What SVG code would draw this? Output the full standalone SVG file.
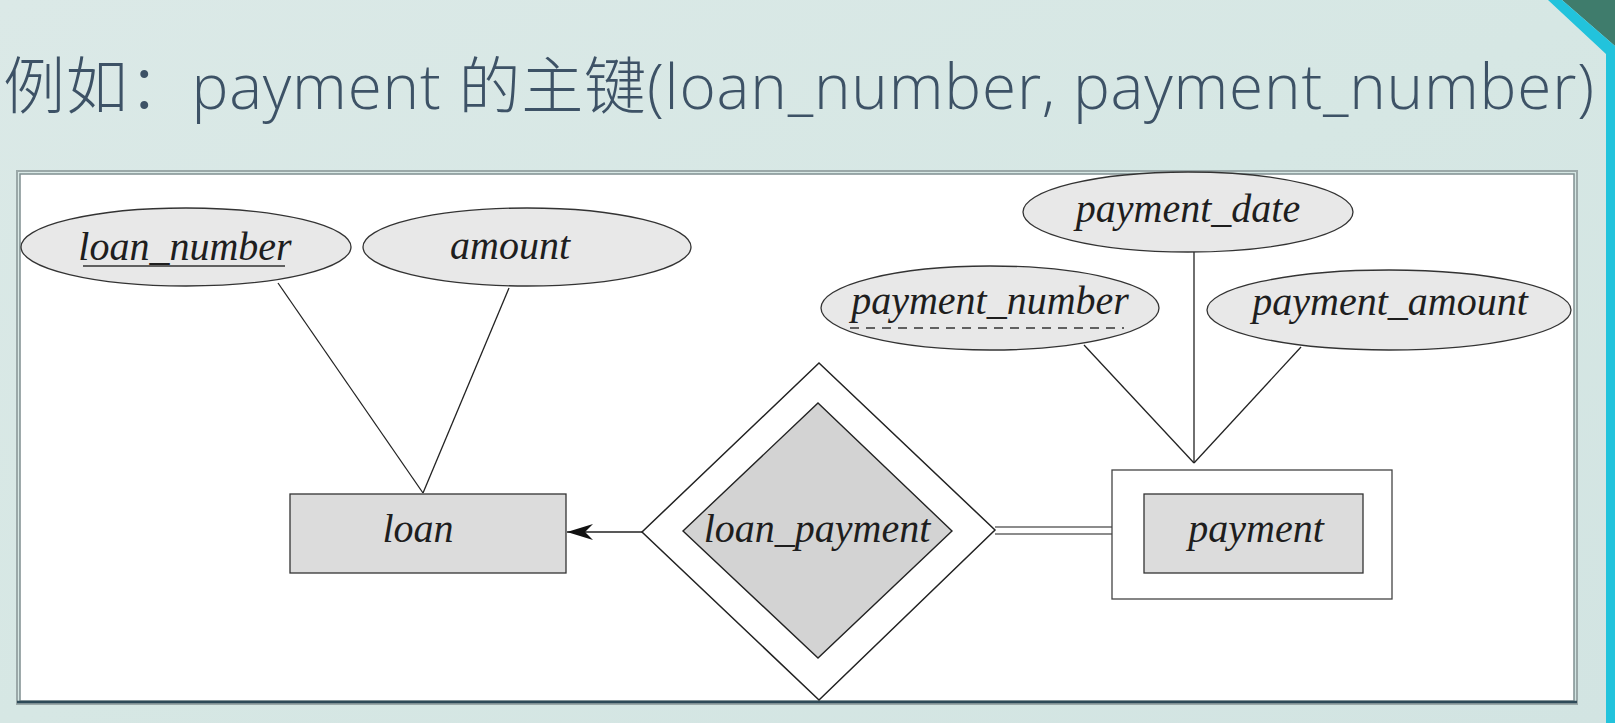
<svg xmlns="http://www.w3.org/2000/svg" width="1615" height="723" viewBox="0 0 1615 723">
  <defs>
    <linearGradient id="bg" x1="0" y1="0" x2="1" y2="1">
      <stop offset="0" stop-color="#dbe9e7"/>
      <stop offset="0.5" stop-color="#d6e7e4"/>
      <stop offset="1" stop-color="#d2e4e2"/>
    </linearGradient>
    <marker id="stealth" viewBox="0 0 26 16" refX="26" refY="8" markerWidth="26" markerHeight="16" markerUnits="userSpaceOnUse" orient="auto">
      <path d="M26,8 L0,0 L8,8 L0,16 Z" fill="#111"/>
    </marker>
    <style>
      .title { font-family: "Open Sans", "Noto Sans CJK SC", sans-serif; font-weight: 300; font-size: 62px; fill: #3d5266; }
      .attr { fill: #e8e8e8; stroke: #333; stroke-width: 1.3; }
      .ent { fill: #dcdcdc; stroke: #333; stroke-width: 1.3; }
      .wrap { fill: #ffffff; stroke: #444; stroke-width: 1.3; }
      .rel { fill: #d3d3d3; stroke: #222; stroke-width: 1.4; }
      .lbl { font-family: "Liberation Serif", "DejaVu Serif", serif; font-style: italic; font-size: 40px; fill: #1e1e1e; text-anchor: middle; }
      .edge { stroke: #222; stroke-width: 1.3; fill: none; }
      .edge2 { stroke: #666; stroke-width: 1.6; fill: none; }
    </style>
  </defs>

  <!-- slide background -->
  <rect x="0" y="0" width="1615" height="723" fill="url(#bg)"/>
  <!-- corner accent on the right edge -->
  <polygon points="1562,0 1615,0 1615,46" fill="#3f7c6c"/>
  <polygon points="1548,0 1562,0 1615,46 1615,723 1606,723 1606,54" fill="#22c3dc"/>

  <!-- heading -->
  <text class="title" x="3" y="109" textLength="1591" lengthAdjust="spacing">例如：payment 的主键(loan_number, payment_number)</text>

  <!-- figure panel -->
  <rect x="17" y="171" width="1560" height="533" fill="none" stroke="#9aa8a8" stroke-width="2"/>
  <rect x="20" y="174" width="1554" height="527" fill="#ffffff" stroke="#7f8f90" stroke-width="1.5"/>
  <line x1="17" y1="702" x2="1577" y2="702" stroke="#2e4a58" stroke-width="2.5"/>

  <!-- connectors -->
  <g id="connectors">
    <line class="edge" x1="278" y1="283" x2="423" y2="493"/>
    <line class="edge" x1="509" y1="288" x2="423" y2="493"/>
    <line class="edge" x1="1194" y1="252" x2="1194" y2="463"/>
    <line class="edge" x1="1084" y1="345" x2="1194" y2="463"/>
    <line class="edge" x1="1301" y1="347" x2="1194" y2="463"/>
    <line class="edge" x1="642" y1="532" x2="567" y2="532" marker-end="url(#stealth)"/>
    <line class="edge2" x1="995" y1="527" x2="1112" y2="527"/>
    <line class="edge2" x1="995" y1="534" x2="1112" y2="534"/>
  </g>

  <!-- attributes -->
  <g id="attr-loan_number">
    <ellipse class="attr" cx="186" cy="247" rx="165" ry="39"/>
    <text class="lbl" x="185" y="260">loan_number</text>
    <line x1="83" y1="266" x2="285" y2="266" stroke="#333" stroke-width="1.5"/>
  </g>
  <g id="attr-amount">
    <ellipse class="attr" cx="527" cy="247" rx="164" ry="39"/>
    <text class="lbl" x="510" y="259">amount</text>
  </g>
  <g id="attr-payment_date">
    <ellipse class="attr" cx="1188" cy="212" rx="165" ry="40"/>
    <text class="lbl" x="1188" y="222">payment_date</text>
  </g>
  <g id="attr-payment_number">
    <ellipse class="attr" cx="990" cy="308" rx="169" ry="42"/>
    <text class="lbl" x="990" y="314">payment_number</text>
    <line x1="850" y1="328" x2="1124" y2="328" stroke="#333" stroke-width="1.3" stroke-dasharray="9,7"/>
  </g>
  <g id="attr-payment_amount">
    <ellipse class="attr" cx="1389" cy="310" rx="182" ry="40"/>
    <text class="lbl" x="1390" y="315">payment_amount</text>
  </g>

  <!-- entities -->
  <g id="entity-loan">
    <rect class="ent" x="290" y="494" width="276" height="79"/>
    <text class="lbl" x="418" y="542">loan</text>
  </g>
  <g id="entity-payment">
    <rect class="wrap" x="1112" y="470" width="280" height="129"/>
    <rect class="ent" x="1144" y="494" width="219" height="79"/>
    <text class="lbl" x="1256" y="542">payment</text>
  </g>

  <!-- identifying relationship -->
  <g id="rel-loan_payment">
    <polygon points="819,363 995,530 819,700 642,532" fill="#ffffff" stroke="#222" stroke-width="1.5"/>
    <polygon class="rel" points="818,403 952,531 818,658 683,531"/>
    <text class="lbl" x="817" y="542">loan_payment</text>
  </g>
</svg>
